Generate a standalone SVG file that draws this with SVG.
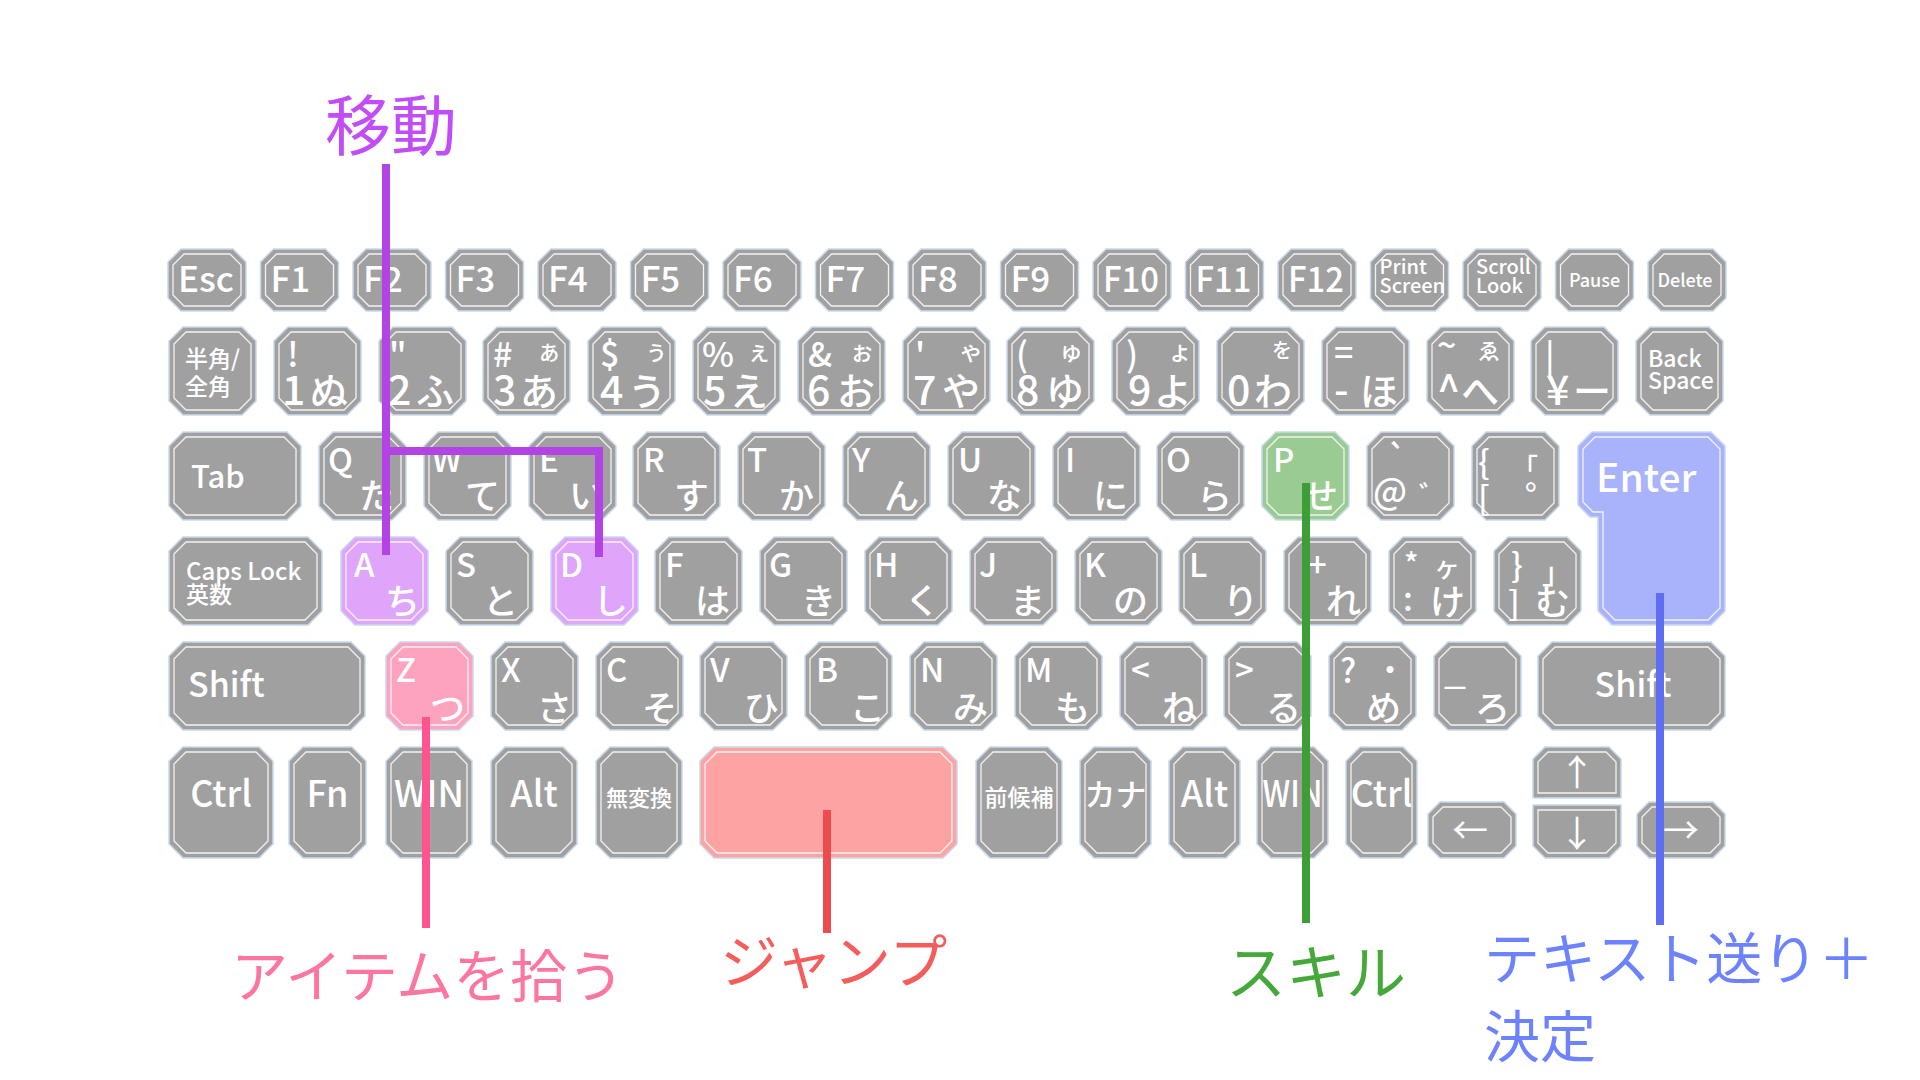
<svg xmlns="http://www.w3.org/2000/svg" xmlns:xlink="http://www.w3.org/1999/xlink" width="1920" height="1080" viewBox="0 0 1920 1080">
<style>
.k{fill:#a0a0a0;stroke:#c8d9ee;stroke-width:1.5}
.ki{fill:none;stroke:#f2f2f2;stroke-width:1.3}
.pu{fill:#dfa5fb}
.pk{fill:#fda3bf}
.rd{fill:#fda3a3}
.gr{fill:#99cb92}
.bl{fill:#a9b3fb}
text{fill:#fff;font-family:"Noto Sans CJK JP","Noto Sans",sans-serif;font-weight:500}
#labels text{font-weight:400}
.c{text-anchor:middle}
.e{text-anchor:end}
.f1{font-size:35px}
.f2{font-size:20px}
.f3{font-size:18px}
.sy{font-size:34px}
.sm{font-size:24px}
.dg{font-size:41px}
.kb{font-size:38px}
.lt{font-size:33px}
.kn{font-size:35px}
.md{font-size:23px}
.b6{font-size:36px}
.ar{font-size:36px;font-weight:400}
.ln{fill:none;stroke-width:8;stroke-linecap:butt}
.lab{font-size:57px}
</style>
<defs>
<path id="oF" d="M13,0h52l13,13v36l-13,13h-52l-13,-13v-36z"/>
<path id="iF" d="M16,5h46l11,11v30l-11,11h-46l-11,-11v-30z"/>
<path id="oS" d="M14,0h59l14,14v60l-14,14h-59l-14,-14v-60z"/>
<path id="iS" d="M17,5h53l12,12v54l-12,12h-53l-12,-12v-54z"/>
<path id="oTab" d="M14,0h104l14,14v60l-14,14h-104l-14,-14v-60z"/>
<path id="iTab" d="M17,5h98l12,12v54l-12,12h-98l-12,-12v-54z"/>
<path id="oCaps" d="M14,0h125l14,14v60l-14,14h-125l-14,-14v-60z"/>
<path id="iCaps" d="M17,5h119l12,12v54l-12,12h-119l-12,-12v-54z"/>
<path id="oShL" d="M14,0h168l14,14v60l-14,14h-168l-14,-14v-60z"/>
<path id="iShL" d="M17,5h162l12,12v54l-12,12h-162l-12,-12v-54z"/>
<path id="oShR" d="M14,0h159l14,14v60l-14,14h-159l-14,-14v-60z"/>
<path id="iShR" d="M17,5h153l12,12v54l-12,12h-153l-12,-12v-54z"/>
<path id="oB" d="M14,0h58l14,14v83l-14,14h-58l-14,-14v-83z"/>
<path id="iB" d="M17,5h52l12,12v77l-12,12h-52l-12,-12v-77z"/>
<path id="oCtl" d="M14,0h76l14,14v83l-14,14h-76l-14,-14v-83z"/>
<path id="iCtl" d="M17,5h70l12,12v77l-12,12h-70l-12,-12v-77z"/>
<path id="oFn" d="M14,0h49l14,14v83l-14,14h-49l-14,-14v-83z"/>
<path id="iFn" d="M17,5h43l12,12v77l-12,12h-43l-12,-12v-77z"/>
<path id="oN" d="M14,0h43l14,14v83l-14,14h-43l-14,-14v-83z"/>
<path id="iN" d="M17,5h37l12,12v77l-12,12h-37l-12,-12v-77z"/>
<path id="oSp" d="M14,0h229l14,14v83l-14,14h-229l-14,-14v-83z"/>
<path id="iSp" d="M17,5h223l12,12v77l-12,12h-223l-12,-12v-77z"/>
<path id="oAr" d="M12,0h64l12,12v32l-12,12h-64l-12,-12v-32z"/>
<path id="iAr" d="M15,5h58l10,10v26l-10,10h-58l-10,-10v-26z"/>
<path id="oUp" d="M12,0h64l12,12v39h-88v-39z"/>
<path id="iUp" d="M15,5h58l10,10v31h-78v-31z"/>
<path id="oDn" d="M0,0h88v41l-12,12h-64l-12,-12z"/>
<path id="iDn" d="M5,5h78v33l-10,10h-58l-10,-10z"/>
</defs>
<rect width="1920" height="1080" fill="#ffffff"/>

<g id="row1">
<g id="key-esc" transform="translate(168,249)"><use href="#oF" class="k"/><use href="#iF" class="ki"/><text class="f1" x="10" y="43">Esc</text></g>
<g id="key-f1" transform="translate(260.5,249)"><use href="#oF" class="k"/><use href="#iF" class="ki"/><text class="f1" x="10" y="43">F1</text></g>
<g id="key-f2" transform="translate(353,249)"><use href="#oF" class="k"/><use href="#iF" class="ki"/><text class="f1" x="10" y="43">F2</text></g>
<g id="key-f3" transform="translate(445.5,249)"><use href="#oF" class="k"/><use href="#iF" class="ki"/><text class="f1" x="10" y="43">F3</text></g>
<g id="key-f4" transform="translate(538,249)"><use href="#oF" class="k"/><use href="#iF" class="ki"/><text class="f1" x="10" y="43">F4</text></g>
<g id="key-f5" transform="translate(630.5,249)"><use href="#oF" class="k"/><use href="#iF" class="ki"/><text class="f1" x="10" y="43">F5</text></g>
<g id="key-f6" transform="translate(723,249)"><use href="#oF" class="k"/><use href="#iF" class="ki"/><text class="f1" x="10" y="43">F6</text></g>
<g id="key-f7" transform="translate(815.5,249)"><use href="#oF" class="k"/><use href="#iF" class="ki"/><text class="f1" x="10" y="43">F7</text></g>
<g id="key-f8" transform="translate(908,249)"><use href="#oF" class="k"/><use href="#iF" class="ki"/><text class="f1" x="10" y="43">F8</text></g>
<g id="key-f9" transform="translate(1000.5,249)"><use href="#oF" class="k"/><use href="#iF" class="ki"/><text class="f1" x="10" y="43">F9</text></g>
<g id="key-f10" transform="translate(1093,249)"><use href="#oF" class="k"/><use href="#iF" class="ki"/><text class="f1" x="10" y="43" textLength="56" lengthAdjust="spacingAndGlyphs">F10</text></g>
<g id="key-f11" transform="translate(1185.5,249)"><use href="#oF" class="k"/><use href="#iF" class="ki"/><text class="f1" x="10" y="43" textLength="56" lengthAdjust="spacingAndGlyphs">F11</text></g>
<g id="key-f12" transform="translate(1278,249)"><use href="#oF" class="k"/><use href="#iF" class="ki"/><text class="f1" x="10" y="43" textLength="56" lengthAdjust="spacingAndGlyphs">F12</text></g>
<g id="key-print" transform="translate(1370.5,249)"><use href="#oF" class="k"/><use href="#iF" class="ki"/><text class="f2" x="9" y="25">Print</text><text class="f2" x="9" y="44">Screen</text></g>
<g id="key-scroll" transform="translate(1463,249)"><use href="#oF" class="k"/><use href="#iF" class="ki"/><text class="f2" x="13" y="25">Scroll</text><text class="f2" x="13" y="44">Look</text></g>
<g id="key-pause" transform="translate(1555.5,249)"><use href="#oF" class="k"/><use href="#iF" class="ki"/><text class="f3 c" x="39" y="38">Pause</text></g>
<g id="key-delete" transform="translate(1648,249)"><use href="#oF" class="k"/><use href="#iF" class="ki"/><text class="f3 c" x="37" y="38">Delete</text></g>
</g>

<g id="row2">
<g id="key-hankaku" transform="translate(169,327)"><use href="#oS" class="k"/><use href="#iS" class="ki"/><text class="md" x="16" y="40">半角/</text><text class="md" x="16" y="68">全角</text></g>
<g id="key-1" transform="translate(274,327)"><use href="#oS" class="k"/><use href="#iS" class="ki"/><text class="sy" x="13" y="40">!</text><text class="dg" x="8" y="78">1</text><text class="kb" x="36" y="78">ぬ</text></g>
<g id="key-2" transform="translate(379,327)"><use href="#oS" class="k"/><use href="#iS" class="ki"/><text class="sy" x="10" y="40">"</text><text class="dg" x="9" y="78">2</text><text class="kb" x="37" y="78">ふ</text></g>
<g id="key-3" transform="translate(483,327)"><use href="#oS" class="k"/><use href="#iS" class="ki"/><text class="sy" x="10" y="40">#</text><text class="sm e" x="78" y="33">ぁ</text><text class="dg" x="10" y="78">3</text><text class="kb" x="37" y="78">あ</text></g>
<g id="key-4" transform="translate(588,327)"><use href="#oS" class="k"/><use href="#iS" class="ki"/><text class="sy" x="12" y="40">$</text><text class="sm e" x="80" y="33">ぅ</text><text class="dg" x="12" y="78">4</text><text class="kb" x="40" y="78">う</text></g>
<g id="key-5" transform="translate(693,327)"><use href="#oS" class="k"/><use href="#iS" class="ki"/><text class="sy" x="9" y="40">%</text><text class="sm e" x="78" y="33">ぇ</text><text class="dg" x="10" y="78">5</text><text class="kb" x="37" y="78">え</text></g>
<g id="key-6" transform="translate(798,327)"><use href="#oS" class="k"/><use href="#iS" class="ki"/><text class="sy" x="10" y="40">&amp;</text><text class="sm e" x="76" y="33">ぉ</text><text class="dg" x="9" y="78">6</text><text class="kb" x="39" y="78">お</text></g>
<g id="key-7" transform="translate(903,327)"><use href="#oS" class="k"/><use href="#iS" class="ki"/><text class="sy" x="12" y="40">'</text><text class="sm e" x="80" y="33">ゃ</text><text class="dg" x="10" y="78">7</text><text class="kb" x="39" y="78">や</text></g>
<g id="key-8" transform="translate(1007,327)"><use href="#oS" class="k"/><use href="#iS" class="ki"/><text class="sy" x="9" y="40">(</text><text class="sm e" x="76" y="33">ゅ</text><text class="dg" x="9" y="78">8</text><text class="kb" x="39" y="78">ゆ</text></g>
<g id="key-9" transform="translate(1112,327)"><use href="#oS" class="k"/><use href="#iS" class="ki"/><text class="sy" x="14" y="40">)</text><text class="sm e" x="80" y="33">ょ</text><text class="dg" x="16" y="78">9</text><text class="kb" x="42" y="78">よ</text></g>
<g id="key-0" transform="translate(1217,327)"><use href="#oS" class="k"/><use href="#iS" class="ki"/><text class="e" style="font-size:20px" x="75" y="31">を</text><text class="dg" x="10" y="78">0</text><text class="kb" x="37" y="78">わ</text></g>
<g id="key-minus" transform="translate(1322,327)"><use href="#oS" class="k"/><use href="#iS" class="ki"/><text class="sy" x="12" y="38">=</text><text class="dg" x="12" y="78">-</text><text class="kb" x="38" y="78">ほ</text></g>
<g id="key-caret" transform="translate(1427,327)"><use href="#oS" class="k"/><use href="#iS" class="ki"/><text class="sy" x="10" y="31">~</text><text class="e" style="font-size:22px" x="73" y="32">ゑ</text><text class="dg" x="10" y="78">^</text><text class="kb" x="34" y="78">へ</text></g>
<g id="key-yen" transform="translate(1531,327)"><use href="#oS" class="k"/><use href="#iS" class="ki"/><text class="sy" x="14" y="42">|</text><text class="dg" x="15" y="78">¥</text><text class="kb" x="42" y="78">ー</text></g>
<g id="key-bs" transform="translate(1636,327)"><use href="#oS" class="k"/><use href="#iS" class="ki"/><text style="font-size:23px" x="12" y="40">Back</text><text style="font-size:23px" x="12" y="62">Space</text></g>
</g>

<g id="row3">
<g id="key-tab" transform="translate(169,432)"><use href="#oTab" class="k"/><use href="#iTab" class="ki"/><text style="font-size:31px" x="22" y="56">Tab</text></g>
<g id="key-q" transform="translate(319,432)"><use href="#oS" class="k"/><use href="#iS" class="ki"/><text class="lt" x="9" y="40">Q</text><text class="kn" x="40" y="77">た</text></g>
<g id="key-w" transform="translate(424,432)"><use href="#oS" class="k"/><use href="#iS" class="ki"/><text class="lt" x="8" y="40">W</text><text class="kn" x="41" y="77">て</text></g>
<g id="key-e" transform="translate(529,432)"><use href="#oS" class="k"/><use href="#iS" class="ki"/><text class="lt" x="10" y="40">E</text><text class="kn" x="40" y="77">い</text></g>
<g id="key-r" transform="translate(633,432)"><use href="#oS" class="k"/><use href="#iS" class="ki"/><text class="lt" x="10" y="40">R</text><text class="kn" x="41" y="77">す</text></g>
<g id="key-t" transform="translate(738,432)"><use href="#oS" class="k"/><use href="#iS" class="ki"/><text class="lt" x="9" y="40">T</text><text class="kn" x="41" y="77">か</text></g>
<g id="key-y" transform="translate(843,432)"><use href="#oS" class="k"/><use href="#iS" class="ki"/><text class="lt" x="9" y="40">Y</text><text class="kn" x="41" y="77">ん</text></g>
<g id="key-u" transform="translate(948,432)"><use href="#oS" class="k"/><use href="#iS" class="ki"/><text class="lt" x="10" y="40">U</text><text class="kn" x="39" y="77">な</text></g>
<g id="key-i" transform="translate(1053,432)"><use href="#oS" class="k"/><use href="#iS" class="ki"/><text class="lt" x="12" y="40">I</text><text class="kn" x="40" y="77">に</text></g>
<g id="key-o" transform="translate(1157,432)"><use href="#oS" class="k"/><use href="#iS" class="ki"/><text class="lt" x="9" y="40">O</text><text class="kn" x="40" y="77">ら</text></g>
<g id="key-p" transform="translate(1262,432)"><use href="#oS" class="k gr"/><use href="#iS" class="ki"/><text class="lt" x="11" y="40">P</text><text class="kn" x="41" y="77">せ</text></g>
<g id="key-at" transform="translate(1367,432)"><use href="#oS" class="k"/><use href="#iS" class="ki"/><text class="lt" x="20" y="38">`</text><text style="font-size:35px" x="6" y="72">@</text><text style="font-size:28px" x="52" y="74">゛</text></g>
<g id="key-bracket" transform="translate(1472,432)"><use href="#oS" class="k"/><use href="#iS" class="ki"/><text class="lt" x="6" y="42">{</text><text class="lt" x="6" y="78">[</text><text style="font-size:26px" x="40" y="45">「</text><text style="font-size:30px" x="53" y="57">。</text></g>
<g id="key-enter"><polygon class="k bl" points="1592,432 1711,432 1725,446 1725,611 1711,625 1612,625 1598,611 1598,517 1590,517 1578,505 1578,446"/><polygon class="ki" points="1595,437 1708,437 1720,449 1720,608 1708,620 1615,620 1603,608 1603,512 1593,512 1583,502 1583,449"/><text style="font-size:39px" x="1596" y="492">Enter</text></g>
</g>

<g id="row4">
<g id="key-caps" transform="translate(169,537)"><use href="#oCaps" class="k"/><use href="#iCaps" class="ki"/><text style="font-size:24px" x="17" y="43">Caps Lock</text><text class="md" x="17" y="66">英数</text></g>
<g id="key-a" transform="translate(341,537)"><use href="#oS" class="k pu"/><use href="#iS" class="ki"/><text class="lt" x="13" y="40">A</text><text class="kn" x="44" y="77">ち</text></g>
<g id="key-s" transform="translate(446,537)"><use href="#oS" class="k"/><use href="#iS" class="ki"/><text class="lt" x="10" y="40">S</text><text class="kn" x="37" y="77">と</text></g>
<g id="key-d" transform="translate(551,537)"><use href="#oS" class="k pu"/><use href="#iS" class="ki"/><text class="lt" x="9" y="40">D</text><text class="kn" x="42" y="77">し</text></g>
<g id="key-f" transform="translate(655,537)"><use href="#oS" class="k"/><use href="#iS" class="ki"/><text class="lt" x="10" y="40">F</text><text class="kn" x="40" y="77">は</text></g>
<g id="key-g" transform="translate(760,537)"><use href="#oS" class="k"/><use href="#iS" class="ki"/><text class="lt" x="9" y="40">G</text><text class="kn" x="41" y="77">き</text></g>
<g id="key-h" transform="translate(865,537)"><use href="#oS" class="k"/><use href="#iS" class="ki"/><text class="lt" x="9" y="40">H</text><text class="kn" x="40" y="77">く</text></g>
<g id="key-j" transform="translate(970,537)"><use href="#oS" class="k"/><use href="#iS" class="ki"/><text class="lt" x="9" y="40">J</text><text class="kn" x="40" y="77">ま</text></g>
<g id="key-k" transform="translate(1075,537)"><use href="#oS" class="k"/><use href="#iS" class="ki"/><text class="lt" x="9" y="40">K</text><text class="kn" x="38" y="77">の</text></g>
<g id="key-l" transform="translate(1179,537)"><use href="#oS" class="k"/><use href="#iS" class="ki"/><text class="lt" x="10" y="40">L</text><text class="kn" x="44" y="77">り</text></g>
<g id="key-plus" transform="translate(1284,537)"><use href="#oS" class="k"/><use href="#iS" class="ki"/><text class="lt" x="24" y="40">+</text><text class="kn" x="42" y="77">れ</text></g>
<g id="key-colon" transform="translate(1389,537)"><use href="#oS" class="k"/><use href="#iS" class="ki"/><text style="font-size:30px" x="15" y="38">*</text><text class="lt" x="14" y="74">:</text><text style="font-size:26px" x="45" y="40">ヶ</text><text class="kn" x="41" y="78">け</text></g>
<g id="key-brace" transform="translate(1494,537)"><use href="#oS" class="k"/><use href="#iS" class="ki"/><text class="lt" x="17" y="40">}</text><text class="lt" x="14" y="78">]</text><text style="font-size:30px" x="48" y="46">」</text><text class="kn" x="41" y="78">む</text></g>
</g>

<g id="row5">
<g id="key-shift-l" transform="translate(169,642)"><use href="#oShL" class="k"/><use href="#iShL" class="ki"/><text style="font-size:34px" x="19" y="55">Shift</text></g>
<g id="key-z" transform="translate(386,642)"><use href="#oS" class="k pk"/><use href="#iS" class="ki"/><text class="lt" x="10" y="40">Z</text><text class="kn" x="44" y="79">つ</text></g>
<g id="key-x" transform="translate(491,642)"><use href="#oS" class="k"/><use href="#iS" class="ki"/><text class="lt" x="10" y="40">X</text><text class="kn" x="46" y="79">さ</text></g>
<g id="key-c" transform="translate(596,642)"><use href="#oS" class="k"/><use href="#iS" class="ki"/><text class="lt" x="10" y="40">C</text><text class="kn" x="46" y="79">そ</text></g>
<g id="key-v" transform="translate(700,642)"><use href="#oS" class="k"/><use href="#iS" class="ki"/><text class="lt" x="10" y="40">V</text><text class="kn" x="44" y="79">ひ</text></g>
<g id="key-b" transform="translate(805,642)"><use href="#oS" class="k"/><use href="#iS" class="ki"/><text class="lt" x="11" y="40">B</text><text class="kn" x="45" y="79">こ</text></g>
<g id="key-n" transform="translate(910,642)"><use href="#oS" class="k"/><use href="#iS" class="ki"/><text class="lt" x="10" y="40">N</text><text class="kn" x="43" y="79">み</text></g>
<g id="key-m" transform="translate(1015,642)"><use href="#oS" class="k"/><use href="#iS" class="ki"/><text class="lt" x="10" y="40">M</text><text class="kn" x="40" y="79">も</text></g>
<g id="key-comma" transform="translate(1120,642)"><use href="#oS" class="k"/><use href="#iS" class="ki"/><text class="lt" x="11" y="40">&lt;</text><text class="kn" x="42" y="79">ね</text></g>
<g id="key-period" transform="translate(1224,642)"><use href="#oS" class="k"/><use href="#iS" class="ki"/><text class="lt" x="11" y="40">&gt;</text><text class="kn" x="42" y="79">る</text></g>
<g id="key-slash" transform="translate(1329,642)"><use href="#oS" class="k"/><use href="#iS" class="ki"/><text class="lt" x="11" y="41">?</text><text style="font-size:30px" x="46" y="39">・</text><text class="kn" x="37" y="79">め</text></g>
<g id="key-ro" transform="translate(1434,642)"><use href="#oS" class="k"/><use href="#iS" class="ki"/><text style="font-size:36px;font-family:'Liberation Sans',sans-serif" x="11" y="40">_</text><text class="kn" x="41" y="79">ろ</text></g>
<g id="key-shift-r" transform="translate(1538,642)"><use href="#oShR" class="k"/><use href="#iShR" class="ki"/><text class="c" style="font-size:34px" x="95" y="55">Shift</text></g>
</g>

<g id="row6">
<g id="key-ctrl-l" transform="translate(169,747)"><use href="#oCtl" class="k"/><use href="#iCtl" class="ki"/><text class="b6 c" x="52" y="60">Ctrl</text></g>
<g id="key-fn" transform="translate(289,747)"><use href="#oFn" class="k"/><use href="#iFn" class="ki"/><text class="b6 c" x="38.5" y="60">Fn</text></g>
<g id="key-win-l" transform="translate(386,747)"><use href="#oB" class="k"/><use href="#iB" class="ki"/><text class="b6 c" x="43" y="60" textLength="70" lengthAdjust="spacingAndGlyphs">WIN</text></g>
<g id="key-alt-l" transform="translate(491,747)"><use href="#oB" class="k"/><use href="#iB" class="ki"/><text class="b6 c" x="43" y="60">Alt</text></g>
<g id="key-muhenkan" transform="translate(596,747)"><use href="#oB" class="k"/><use href="#iB" class="ki"/><text class="c" style="font-size:22px" x="43" y="59">無変換</text></g>
<g id="key-space" transform="translate(700,747)"><use href="#oSp" class="k rd"/><use href="#iSp" class="ki"/></g>
<g id="key-zenkouho" transform="translate(976,747)"><use href="#oB" class="k"/><use href="#iB" class="ki"/><text class="c md" x="43" y="59">前候補</text></g>
<g id="key-kana" transform="translate(1080,747)"><use href="#oN" class="k"/><use href="#iN" class="ki"/><text class="c" style="font-size:31px" x="35.5" y="59">カナ</text></g>
<g id="key-alt-r" transform="translate(1169,747)"><use href="#oN" class="k"/><use href="#iN" class="ki"/><text class="b6 c" x="35.5" y="60">Alt</text></g>
<g id="key-win-r" transform="translate(1257,747)"><use href="#oN" class="k"/><use href="#iN" class="ki"/><text class="b6 c" x="35.5" y="60" textLength="60" lengthAdjust="spacingAndGlyphs">WIN</text></g>
<g id="key-ctrl-r" transform="translate(1346,747)"><use href="#oN" class="k"/><use href="#iN" class="ki"/><text class="b6 c" x="35.5" y="60">Ctrl</text></g>
<g id="key-left" transform="translate(1428,802)"><use href="#oAr" class="k"/><use href="#iAr" class="ki"/><text class="ar c" x="42" y="42">←</text></g>
<g id="key-up" transform="translate(1533,747)"><use href="#oUp" class="k"/><use href="#iUp" class="ki"/><text class="ar c" x="44" y="39">↑</text></g>
<g id="key-down" transform="translate(1533,805)"><use href="#oDn" class="k"/><use href="#iDn" class="ki"/><text class="ar c" x="44" y="42">↓</text></g>
<g id="key-right" transform="translate(1637,802)"><use href="#oAr" class="k"/><use href="#iAr" class="ki"/><text class="ar c" x="44" y="42">→</text></g>
</g>

<g id="connectors">
<path class="ln" stroke="#b443e6" d="M386,164V555M386,451H599V557"/>
<path class="ln" stroke="#ff5490" stroke-width="7" d="M426,717V928"/>
<path class="ln" stroke="#ee4c4c" d="M827,810V933"/>
<path class="ln" stroke="#3c9e34" d="M1306,483V923"/>
<path class="ln" stroke="#5e6ef2" d="M1660,593V925"/>
</g>

<g id="labels">
<g id="label-move"><text style="font-size:66px;fill:#c24df8" x="325" y="150">移動</text></g>
<g id="label-pickup"><text class="lab" style="fill:#fd76a0" x="231" y="997">アイテムを拾う</text></g>
<g id="label-jump"><text class="lab" style="font-size:58px;fill:#f55c5c" x="720" y="983">ジャンプ</text></g>
<g id="label-skill"><text class="lab" style="font-size:60px;fill:#45a83a" x="1226" y="995">スキル</text></g>
<g id="label-enter"><text class="lab" style="font-size:56px;fill:#6c82ff" x="1484" y="979">テキスト送り＋</text><text class="lab" style="font-size:56px;fill:#6c82ff" x="1484" y="1057">決定</text></g>
</g>
</svg>
